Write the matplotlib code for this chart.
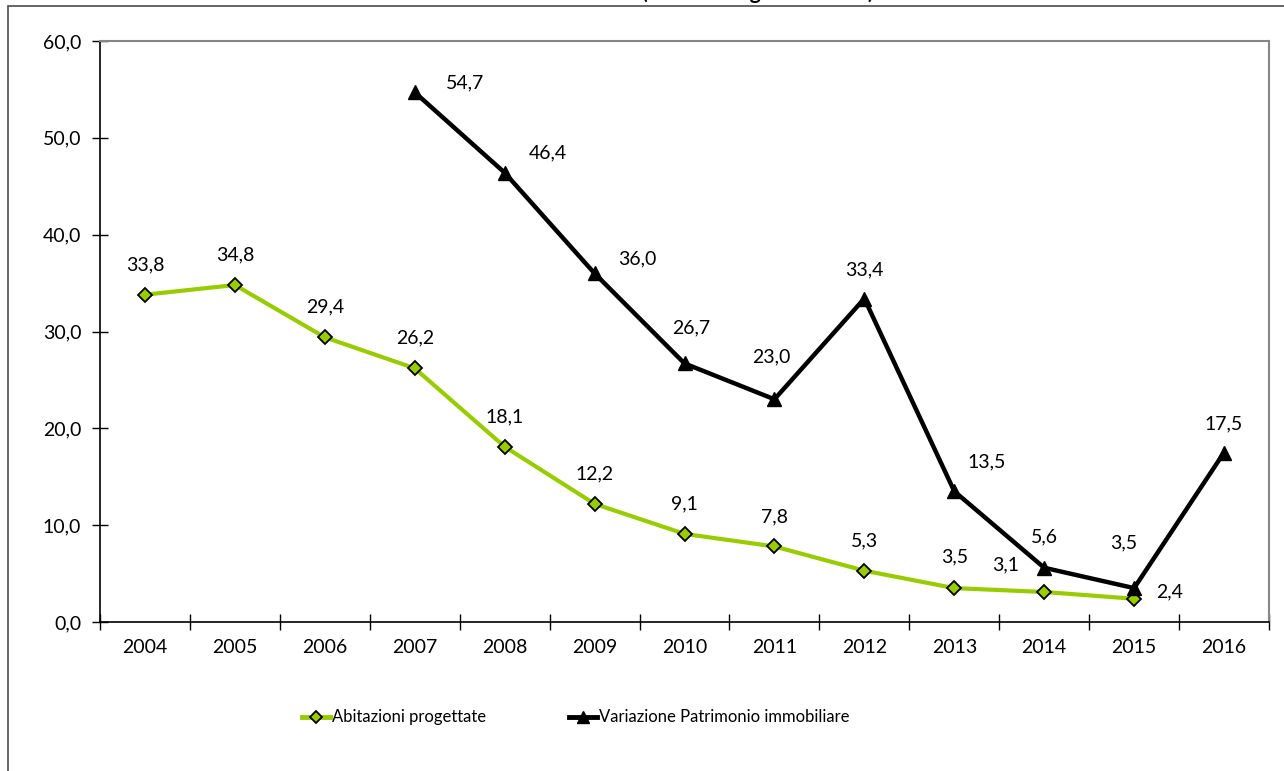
import numpy as np
import matplotlib.pyplot as plt
from matplotlib.patches import Rectangle
from matplotlib.lines import Line2D
from matplotlib import font_manager

anni = ['2004', '2005', '2006', '2007', '2008', '2009', '2010',
        '2011', '2012', '2013', '2014', '2015', '2016']
abitazioni = [33.8, 34.8, 29.4, 26.2, 18.1, 12.2, 9.1, 7.8, 5.3, 3.5, 3.1, 2.4, np.nan]
patrimonio = [np.nan, np.nan, np.nan, 54.7, 46.4, 36.0, 26.7, 23.0, 33.4, 13.5, 5.6, 3.5, 17.5]
serie = ['Abitazioni progettate', 'Variazione Patrimonio immobiliare']

# label offsets (pixels)
off_abit = [(0, 30)] * 9 + [(0, 31), (-39, 27), (35, 7), (0, 0)]
off_patr = [(0, 0)] * 3 + [(50, 9), (43, 20), (43, 15), (7, 36), (-3, 42),
                           (0, 29), (32, 29), (0, 31), (-10, 45), (0, 29)]

plt.rcParams['font.family'] = ['Lato', 'DejaVu Sans']

# narrow font for the legend if there is one
try:
    font_manager.findfont('Liberation Sans Narrow', fallback_to_default=False)
    leg_font = ['Liberation Sans Narrow', 'Lato']
except Exception:
    leg_font = ['Lato', 'DejaVu Sans']

W, H = 1284, 771
fig = plt.figure(figsize=(W / 100, H / 100), dpi=100)
ax = fig.add_axes([100 / W, (H - 622) / H, (1269 - 100) / W, (622 - 41) / H])

x = np.arange(len(anni))
green = '#99CC00'
st_abit = dict(color=green, lw=3, marker='D', ms=7, mfc=green, mec='black', mew=1.3)
st_patr = dict(color='black', lw=3.2, marker='^', ms=10, mfc='black', mec='black', mew=1)
ax.plot(x, abitazioni, zorder=3, **st_abit)
ax.plot(x, patrimonio, zorder=4, **st_patr)

def fmt(v):
    return ('%.1f' % v).replace('.', ',')

for xi, v, o in zip(x, abitazioni, off_abit):
    if not np.isnan(v):
        ax.annotate(fmt(v), (xi, v), xytext=o, textcoords='offset pixels',
                    ha='center', va='center', fontsize=14)
for xi, v, o in zip(x, patrimonio, off_patr):
    if not np.isnan(v):
        ax.annotate(fmt(v), (xi, v), xytext=o, textcoords='offset pixels',
                    ha='center', va='center', fontsize=14)

ax.set_xlim(-0.5, len(anni) - 0.5)
ax.set_ylim(0, 60)
ax.set_yticks(np.arange(0, 61, 10))
ax.set_yticklabels([fmt(v) for v in np.arange(0, 61, 10)], fontsize=14)
ax.set_xticks(np.arange(-0.5, len(anni), 1))
ax.set_xticklabels([])
ax.set_xticks(x, minor=True)
ax.set_xticklabels(anni, minor=True, fontsize=14)
ax.tick_params(axis='x', which='major', direction='inout', length=12, width=1)
ax.tick_params(axis='x', which='minor', length=0, pad=12)
ax.tick_params(axis='y', direction='inout', length=11, width=1, pad=8)

for s in ['top', 'right']:
    ax.spines[s].set_color('#868686')
    ax.spines[s].set_linewidth(1.5)
for s in ['left', 'bottom']:
    ax.spines[s].set_color('black')
    ax.spines[s].set_linewidth(1.2)

# legend by hand so each entry sits where it is in the original
leg_y = (H - 717) / H
for lab, st, x0 in [(serie[0], st_abit, 302), (serie[1], st_patr, 569)]:
    fig.add_artist(Line2D([x0 / W, (x0 + 28) / W], [leg_y, leg_y], transform=fig.transFigure,
                          color=st['color'], lw=3.5, zorder=5))
    fig.add_artist(Line2D([(x0 + 14) / W], [leg_y], transform=fig.transFigure, ls='none',
                          marker=st['marker'], ms=st['ms'] - 1, mfc=st['mfc'], mec=st['mec'],
                          mew=st['mew'], zorder=6))
    fig.text((x0 + 30) / W, leg_y, lab, ha='left', va='center', fontsize=12, family=leg_font)

# outer chart frame, cut at the picture edges
fig.patches.append(Rectangle((8 / W, -0.1), 2, (H - 6) / H + 0.1, transform=fig.transFigure,
                             fill=False, edgecolor='#595959', lw=1.3))
# title, mostly cut off above the picture
fig.text(758 / W, 1 + 1 / H, '(valori in migliaia di euro)', ha='center', va='baseline',
         fontsize=15, fontweight='bold')

fig.savefig('out.png', dpi=100)
